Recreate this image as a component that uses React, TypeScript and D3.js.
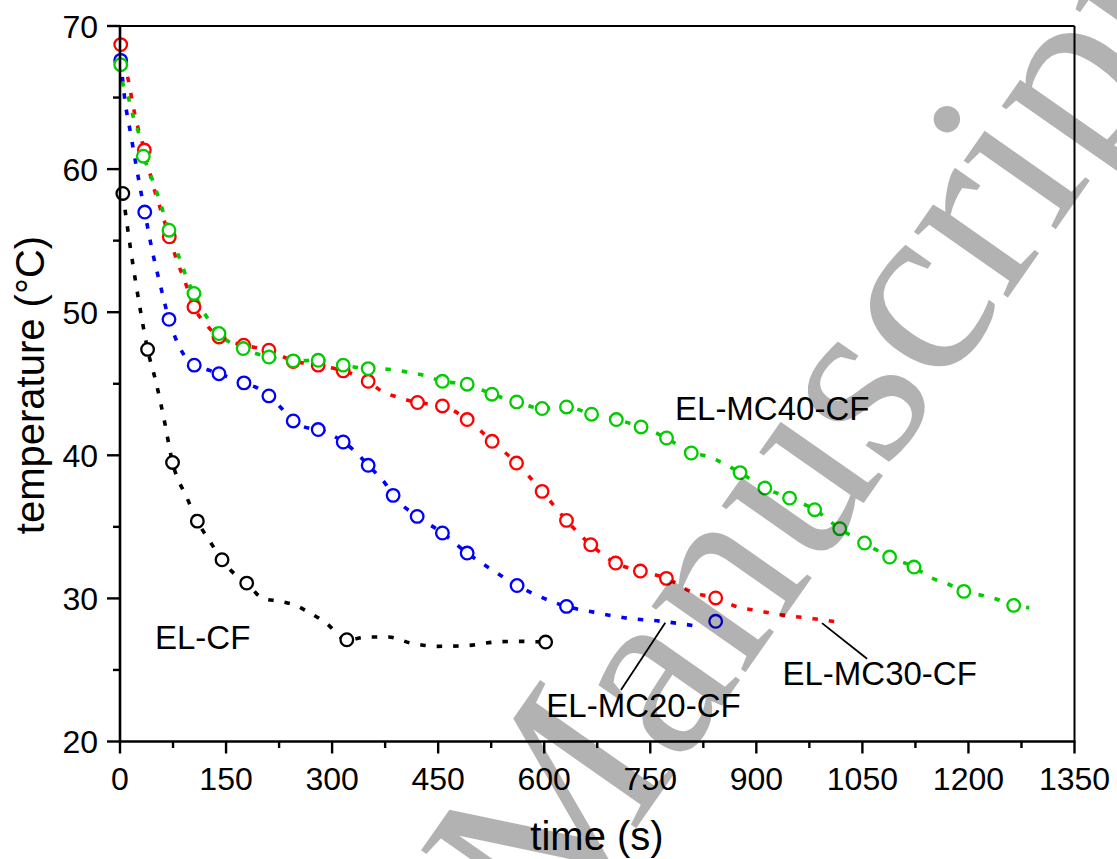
import React from 'react';
import * as d3 from 'd3';

const W = 1117;
const H = 859;

// axis ticks
const xMajorTicks = [0, 150, 300, 450, 600, 750, 900, 1050, 1200, 1350];
const xMinorTicks = [75, 225, 375, 525, 675, 825, 975, 1125, 1275];
const yMajorTicks = [20, 30, 40, 50, 60, 70];
const yMinorTicks = [25, 35, 45, 55, 65];

// markers (measured points)
const blackT = [4, 39, 74.3, 109.4, 144.3, 179.2, 320.8, 602];
const blackV = [58.3, 47.4, 39.5, 35.4, 32.7, 31.07, 27.11, 26.95];

const blueT = [1, 35, 69.3, 105, 140, 175.3, 210.6, 245, 280.3, 315.7, 351, 386.3, 420.3, 456, 491, 561.6, 631.5, 842.5];
const blueV = [67.6, 57.0, 49.5, 46.3, 45.7, 45.06, 44.15, 42.4, 41.8, 40.93, 39.3, 37.2, 35.73, 34.57, 33.17, 30.9, 29.44, 28.4];

const redT = [1, 34.4, 69.7, 104.6, 140, 175, 210.6, 245, 280.3, 315.7, 351, 420.8, 456, 491, 526.3, 560.8, 597, 631.5, 665.8, 701, 736, 772.8, 842.5];
const redV = [68.7, 61.33, 55.27, 50.37, 48.27, 47.69, 47.34, 46.55, 46.3, 45.9, 45.17, 43.69, 43.45, 42.5, 40.98, 39.46, 37.48, 35.45, 33.75, 32.47, 31.91, 31.4, 30.03];

const greenT = [1, 33, 69.3, 104.6, 140, 174.3, 210.6, 245, 280.3, 315.7, 351, 456, 491, 526, 561, 597, 631.5, 667, 702, 737, 773, 808, 877, 912, 947, 982.5, 1018, 1053, 1088.5, 1123, 1193.5, 1264];
const greenV = [67.3, 60.9, 55.73, 51.31, 48.51, 47.46, 46.87, 46.6, 46.64, 46.3, 46.06, 45.17, 44.97, 44.27, 43.73, 43.27, 43.38, 42.87, 42.5, 41.98, 41.21, 40.16, 38.79, 37.71, 37.01, 36.2, 34.87, 33.87, 32.89, 32.19, 30.49, 29.51];

// fitted dotted curves
const blackLineT = [4, 15, 30, 39, 51, 62, 74.3, 95, 109.4, 127, 144.3, 160, 179.2, 202, 226, 249, 268, 291, 320.8, 350, 380, 410, 450, 490, 530, 560, 602];
const blackLineV = [58.3, 54.4, 49.8, 47.4, 45.1, 42.6, 39.5, 37.0, 35.4, 34.0, 32.7, 31.8, 31.07, 30.0, 29.8, 29.5, 29.0, 28.3, 27.11, 27.3, 27.3, 26.9, 26.65, 26.7, 26.95, 27.0, 26.95];

const blueLineT = [1, 7, 15, 23, 35, 46, 57, 69.3, 87, 105, 122.6, 140, 175.3, 200, 210.6, 231, 245, 269, 280.3, 315.7, 328, 351, 377, 386.3, 420.3, 456, 491, 526, 561.6, 595, 631.5, 670, 717, 764, 818];
const blueLineV = [67.6, 64.8, 62.5, 60.2, 57.0, 54.2, 51.9, 49.5, 47.3, 46.3, 46.0, 45.7, 45.06, 44.55, 44.15, 43.15, 42.4, 41.87, 41.8, 40.93, 40.47, 39.3, 37.9, 37.2, 35.73, 34.57, 33.17, 32.0, 30.9, 30.1, 29.44, 29.04, 28.62, 28.41, 28.05];

const redLineT = [1, 12, 21, 34.4, 46, 60, 69.7, 82, 90, 104.6, 122.6, 140, 175, 210.6, 245, 280.3, 315.7, 351, 368, 391, 420.8, 456, 491, 526.3, 560.8, 597, 631.5, 665.8, 701, 736, 772.8, 811, 842.5, 877, 901, 924, 950, 974, 1000, 1023];
const redLineV = [68.7, 66.15, 63.8, 61.33, 59.0, 56.8, 55.27, 53.4, 52.4, 50.37, 49.1, 48.27, 47.69, 47.34, 46.6, 46.3, 45.9, 45.17, 44.55, 44.08, 43.69, 43.45, 42.5, 40.98, 39.46, 37.48, 35.45, 33.75, 32.47, 31.91, 31.4, 30.4, 30.03, 29.35, 29.16, 28.93, 28.76, 28.62, 28.46, 28.27];

const greenLineT = [1, 4, 13, 19, 27, 33, 39, 56, 63, 69.3, 79, 87, 95, 104.6, 117, 140, 174.3, 210.6, 245, 280.3, 315.7, 351, 382, 405, 429, 456, 491, 526, 561, 597, 631.5, 667, 702, 737, 773, 808, 831, 854, 877, 912, 947, 982.5, 1018, 1053, 1088.5, 1123, 1148, 1170, 1193.5, 1215, 1238, 1264, 1286];
const greenLineV = [67.3, 66, 64.8, 63.6, 62.4, 60.9, 60.16, 57.8, 56.7, 55.73, 54.45, 53.4, 52.29, 51.31, 50.14, 48.51, 47.46, 46.87, 46.6, 46.64, 46.3, 46.06, 46.0, 45.83, 45.6, 45.17, 44.97, 44.27, 43.73, 43.27, 43.38, 42.87, 42.5, 41.98, 41.21, 40.16, 39.93, 39.42, 38.79, 37.71, 37.01, 36.2, 34.87, 33.87, 32.89, 32.19, 31.42, 31.03, 30.49, 30.26, 29.98, 29.51, 29.35];

const seriesNames = ['EL-CF', 'EL-MC20-CF', 'EL-MC30-CF', 'EL-MC40-CF'];
const seriesColors = ['#000000', '#0000ff', '#ff0000', '#00cc00'];

// annotation label anchors (data coords) and leader lines
const labelText = ['EL-CF', 'EL-MC40-CF', 'EL-MC20-CF', 'EL-MC30-CF'];
const labelT = [49.5, 785, 603, 937];
const labelV = [26.43, 42.45, 21.68, 23.92];
const leaderFromT = [708.5, 1056.6];
const leaderFromV = [23.6, 25.78];
const leaderToT = [771.2, 992.9];
const leaderToV = [28.3, 28.27];

const zip = (a: number[], b: number[]) => a.map((v, i) => [v, b[i]] as [number, number]);

export default function App() {
  const x = d3.scaleLinear().domain([0, 1350]).range([120, 1074.5]);
  const y = d3.scaleLinear().domain([20, 70]).range([741.5, 26]);
  const line = d3
    .line<[number, number]>()
    .x((d) => x(d[0]))
    .y((d) => y(d[1]))
    .curve(d3.curveMonotoneX);

  const series = [
    { marks: zip(blackT, blackV), fit: zip(blackLineT, blackLineV) },
    { marks: zip(blueT, blueV), fit: zip(blueLineT, blueLineV) },
    { marks: zip(redT, redV), fit: zip(redLineT, redLineV) },
    { marks: zip(greenT, greenV), fit: zip(greenLineT, greenLineV) },
  ];

  const font = 'Liberation Sans, Arial, sans-serif';
  const x0 = x(0), x1 = x(1350), y0 = y(20), y1 = y(70);

  return (
    <svg width={W} height={H} style={{ position: 'absolute', left: 0, top: 0, display: 'block' }} fontFamily={font}>
      <rect x={0} y={0} width={W} height={H} fill="#fff" />
      {/* lines */}
      {series.map((s, i) => (
        <path key={'l' + i} d={line(s.fit) || ''} fill="none" stroke={seriesColors[i]} strokeWidth={3.6} strokeDasharray="5.5 11" />
      ))}
      {/* markers */}
      {series.map((s, i) => (
        <g key={'m' + i}>
          {s.marks.map((d, j) => (
            <circle key={j} cx={x(d[0])} cy={y(d[1])} r={6.3} fill="#fff" stroke={seriesColors[i]} strokeWidth={2.3} />
          ))}
        </g>
      ))}
      {/* frame */}
      <line x1={x0} x2={x1} y1={y1} y2={y1} stroke="#000" strokeWidth={2} />
      <line x1={x1} x2={x1} y1={y1} y2={y0} stroke="#000" strokeWidth={2} />
      <line x1={x0} x2={x0} y1={y1 - 1} y2={y0 + 1} stroke="#000" strokeWidth={2.6} />
      <line x1={x0 - 1} x2={x1 + 1} y1={y0} y2={y0} stroke="#000" strokeWidth={2.6} />
      {/* x ticks */}
      {xMajorTicks.map((t) => (
        <g key={'xt' + t}>
          <line x1={x(t)} x2={x(t)} y1={y0} y2={y0 + 12} stroke="#000" strokeWidth={2.4} />
          <text x={x(t)} y={790} fontSize={32} textAnchor="middle" fill="#000">{t}</text>
        </g>
      ))}
      {xMinorTicks.map((t) => (
        <line key={'xm' + t} x1={x(t)} x2={x(t)} y1={y0} y2={y0 + 6.5} stroke="#000" strokeWidth={2.4} />
      ))}
      {/* y ticks */}
      {yMajorTicks.map((t) => (
        <g key={'yt' + t}>
          <line x1={x0 - 13} x2={x0} y1={y(t)} y2={y(t)} stroke="#000" strokeWidth={2.4} />
          <text x={98} y={y(t) + 11.5} fontSize={32} textAnchor="end" fill="#000">{t}</text>
        </g>
      ))}
      {yMinorTicks.map((t) => (
        <line key={'ym' + t} x1={x0 - 7} x2={x0} y1={y(t)} y2={y(t)} stroke="#000" strokeWidth={2.4} />
      ))}
      {/* axis titles */}
      <text x={597} y={850} fontSize={40} textAnchor="middle" fill="#000">time (s)</text>
      <text transform={`translate(44,385) rotate(-90)`} fontSize={40} textAnchor="middle" fill="#000">temperature (°C)</text>
      {/* annotations */}
      {labelText.map((t, i) => (
        <text key={'lab' + i} x={x(labelT[i])} y={y(labelV[i])} fontSize={33} fill="#000">{t}</text>
      ))}
      {leaderFromT.map((t, i) => (
        <line key={'ld' + i} x1={x(t)} y1={y(leaderFromV[i])} x2={x(leaderToT[i])} y2={y(leaderToV[i])} stroke="#000" strokeWidth={1.8} />
      ))}
      {/* watermark */}
      <text
        transform="translate(551,950) rotate(-55)"
        fontFamily="Liberation Serif, Times New Roman, serif"
        fontSize={250}
        fill="#000"
        fillOpacity={0.3}
      >
        Manuscript
      </text>
    </svg>
  );
}
